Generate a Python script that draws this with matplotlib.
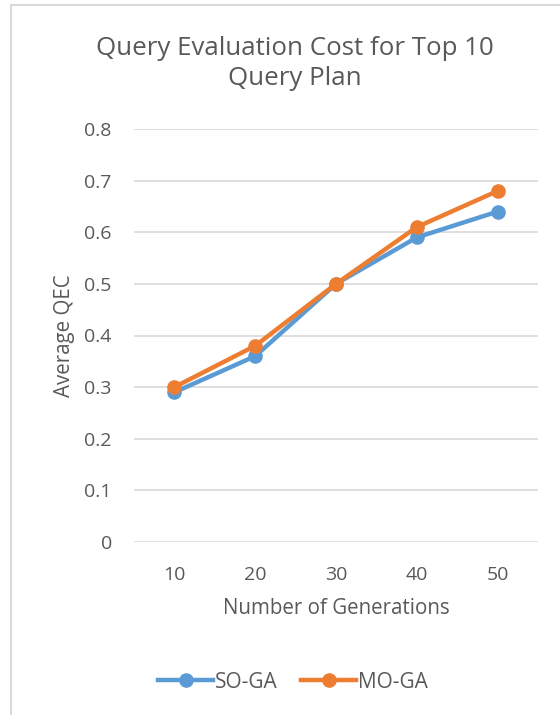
import matplotlib
matplotlib.use("Agg")
import matplotlib.pyplot as plt
from matplotlib.lines import Line2D

categories = ["10", "20", "30", "40", "50"]
so_ga = [0.29, 0.36, 0.50, 0.59, 0.64]
mo_ga = [0.30, 0.38, 0.50, 0.61, 0.68]
yticks = [0, 0.1, 0.2, 0.3, 0.4, 0.5, 0.6, 0.7, 0.8]
ytick_labels = ["0", "0.1", "0.2", "0.3", "0.4", "0.5", "0.6", "0.7", "0.8"]

plt.rcParams['font.family'] = ['Open Sans', 'DejaVu Sans']
TXT = '#595959'
GRID = '#D9D9D9'
BLUE = '#5B9BD5'
ORANGE = '#ED7D31'

fig = plt.figure(figsize=(5.6, 7.15), dpi=100)
ax = fig.add_axes([134/560, 1-542/715, (538-134)/560, (542-129)/715])

x = list(range(len(categories)))
ax.plot(x, so_ga, color=BLUE, lw=3.2, marker='o', ms=9.5, label='SO-GA', clip_on=False, zorder=3)
ax.plot(x, mo_ga, color=ORANGE, lw=3.2, marker='o', ms=9.5, label='MO-GA', clip_on=False, zorder=4)

ax.set_xlim(-0.5, len(categories) - 0.5)
ax.set_ylim(0, 0.8)
ax.set_yticks(yticks)
ax.set_yticklabels(ytick_labels)
ax.set_xticks(x)
ax.set_xticklabels(categories)
ax.tick_params(axis='both', length=0, labelsize=14, colors=TXT)
ax.tick_params(axis='y', pad=16)
ax.tick_params(axis='x', pad=17)
ax.grid(axis='y', color=GRID, lw=1.2)
ax.set_axisbelow(True)
for s in ax.spines.values():
    s.set_visible(False)
ax.set_xlabel('Number of Generations', fontsize=14.8, color=TXT, labelpad=10)
ax.set_ylabel('Average QEC', fontsize=14.8, color=TXT, labelpad=7)

fig.text(295/560, 1-63.5/715, 'Query Evaluation Cost for Top 10\nQuery Plan', ha='center', va='center',
         fontsize=18.6, color=TXT, linespacing=1.3)

fig.legend(loc='center', bbox_to_anchor=(293/560, 1-682/715), ncol=2, frameon=False,
           fontsize=15, labelcolor=TXT, handlelength=2.65, handletextpad=0.1, columnspacing=1.1)

fig.add_artist(Line2D([11/560, 11/560], [0, 1-5/715], color=GRID, lw=1.5, transform=fig.transFigure))
fig.add_artist(Line2D([11/560, 1], [1-5/715, 1-5/715], color=GRID, lw=1.5, transform=fig.transFigure))

fig.savefig('out.png', dpi=100)
